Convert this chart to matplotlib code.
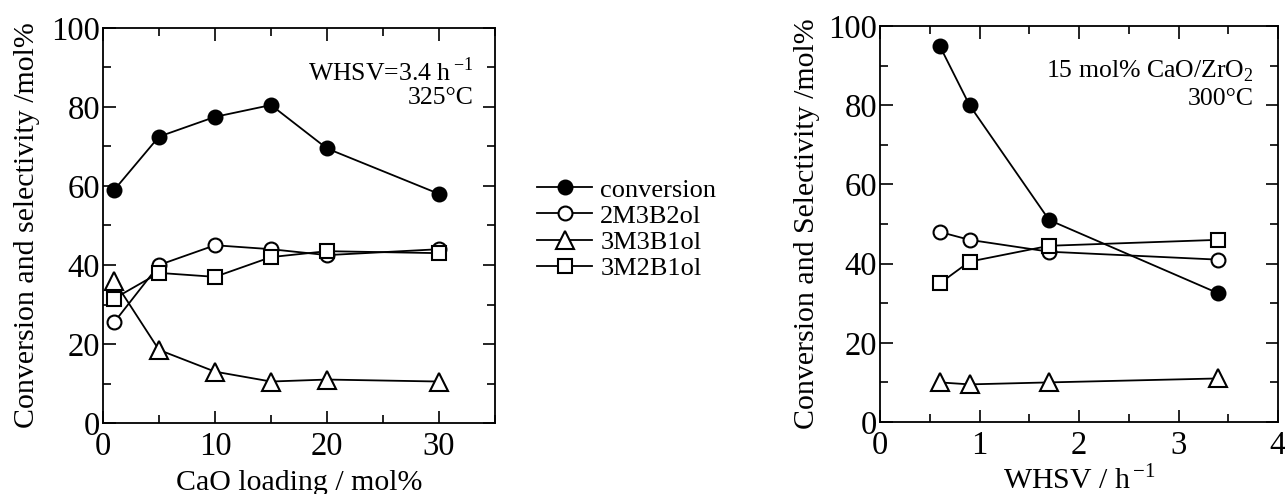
import matplotlib
matplotlib.use("Agg")
import matplotlib.pyplot as plt
from matplotlib.ticker import MultipleLocator
from matplotlib.lines import Line2D

plt.rcParams['font.family'] = ['Liberation Serif', 'DejaVu Serif']
plt.rcParams['mathtext.fontset'] = 'custom'
plt.rcParams['mathtext.rm'] = 'Liberation Serif'

# Left panel: CaO loading
cao = [1, 5, 10, 15, 20, 30]
cao_conv = [59, 72.5, 77.5, 80.5, 69.5, 58]
cao_2m3b2ol = [25.5, 40, 45, 44, 42.5, 44]
cao_3m3b1ol = [36, 18.5, 13, 10.5, 11, 10.5]
cao_3m2b1ol = [31.5, 38, 37, 42, 43.5, 43]

# Right panel: WHSV
whsv = [0.6, 0.9, 1.7, 3.4]
whsv_conv = [95, 80, 51, 32.5]
whsv_2m3b2ol = [48, 46, 43, 41]
whsv_3m3b1ol = [10, 9.5, 10, 11]
whsv_3m2b1ol = [35, 40.5, 44.5, 46]

labels = ['conversion', '2M3B2ol', '3M3B1ol', '3M2B1ol']

W, H = 1285, 494
fig = plt.figure(figsize=(W/100, H/100), dpi=100)

def ax_rect(l, t, r, b):
    return [l/W, 1 - b/H, (r-l)/W, (b-t)/H]

ax1 = fig.add_axes(ax_rect(103, 28, 495, 423))
ax2 = fig.add_axes(ax_rect(880, 26, 1278, 422))

styles = [
    dict(marker='o', ms=10, mfc='black', mec='black'),
    dict(marker='o', ms=10, mfc='white', mec='black'),
    dict(marker='^', ms=12.5, mfc='white', mec='black'),
    dict(marker='s', ms=10, mfc='white', mec='black'),
]

for ys, st in zip([cao_conv, cao_2m3b2ol, cao_3m3b1ol, cao_3m2b1ol], styles):
    ax1.plot(cao, ys, color='black', lw=1.3, mew=1.5, **st)
for ys, st in zip([whsv_conv, whsv_2m3b2ol, whsv_3m3b1ol, whsv_3m2b1ol], styles):
    ax2.plot(whsv, ys, color='black', lw=1.3, mew=1.5, **st)

ax1.set_xlim(0, 35)
ax1.set_ylim(0, 100)
ax1.xaxis.set_major_locator(MultipleLocator(10))
ax1.xaxis.set_minor_locator(MultipleLocator(5))
ax2.set_xlim(0, 4)
ax2.set_ylim(0, 100)
ax2.xaxis.set_major_locator(MultipleLocator(1))
ax2.xaxis.set_minor_locator(MultipleLocator(0.5))

for ax in (ax1, ax2):
    ax.yaxis.set_major_locator(MultipleLocator(20))
    ax.yaxis.set_minor_locator(MultipleLocator(10))
    ax.tick_params(which='both', direction='in', top=True, right=True, labelsize=23.5, width=1.2)
    ax.tick_params(which='major', length=9)
    ax.tick_params(axis='y', which='major', pad=2)
    ax.tick_params(axis='x', which='major', pad=6)
    ax.tick_params(which='minor', length=6)
    for s in ax.spines.values():
        s.set_linewidth(1.3)

ax1.set_xlabel('CaO loading / mol%', fontsize=21.5, labelpad=6)
ax1.set_ylabel('Conversion and selectivity /mol%', fontsize=21.5, labelpad=8)
ax2.set_xlabel('WHSV / h$^{\\,\\mathregular{-1}}$', fontsize=21.5, labelpad=3)
ax2.set_ylabel('Conversion and Selectivity /mol%', fontsize=21.5, labelpad=6)

ax1.text(0.945, 0.89, 'WHSV=3.4 h$^{\\,\\mathregular{-1}}$', transform=ax1.transAxes,
         ha='right', va='center', fontsize=18.5)
ax1.text(0.945, 0.822, '325°C', transform=ax1.transAxes, ha='right', va='center', fontsize=18.5)
ax2.text(0.94, 0.886, '15 mol% CaO/ZrO$_{\\mathregular{2}}$', transform=ax2.transAxes,
         ha='right', va='center', fontsize=18.5)
ax2.text(0.94, 0.815, '300°C', transform=ax2.transAxes, ha='right', va='center', fontsize=18.5)

handles = [Line2D([0], [0], color='black', lw=1.3, mew=1.5, **st) for st in styles]
fig.legend(handles, labels, loc='center left', bbox_to_anchor=(537/W, 1 - 229/H),
           frameon=False, fontsize=19, handlelength=2.1, handletextpad=0.3,
           labelspacing=0.1, borderpad=0, borderaxespad=0)

fig.savefig('out.png', dpi=100)
